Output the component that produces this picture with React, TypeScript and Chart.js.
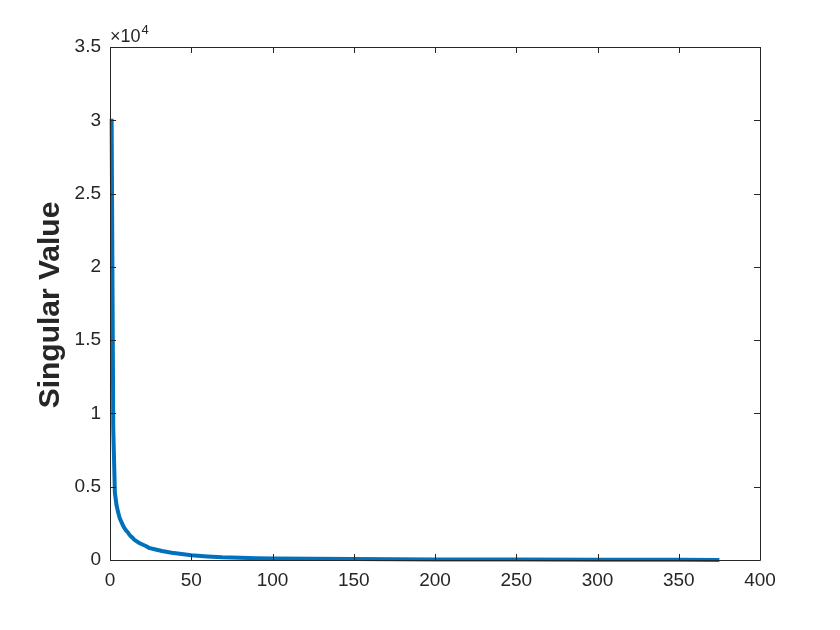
import React, { useEffect, useRef } from "react";
import { Chart, registerables } from "chart.js";

Chart.register(...registerables);

const indices = [1, 2, 3, 4, 5, 6, 7, 8, 9, 10, 11, 12, 13, 14, 15, 16, 18, 20, 22, 24, 28, 32, 38, 44, 50, 60, 69, 80, 90, 100, 125, 150, 175, 200, 250, 300, 350, 375];
const singularValues = [30100, 9000, 4600, 3750, 3250, 2850, 2600, 2350, 2150, 2000, 1880, 1720, 1600, 1500, 1380, 1300, 1160, 1060, 960, 830, 720, 610, 500, 410, 330, 240, 180, 150, 125, 108, 80, 62, 50, 42, 30, 20, 12, 5];
const xTicks = [0, 50, 100, 150, 200, 250, 300, 350, 400];
const yTicks = [0, 5000, 10000, 15000, 20000, 25000, 30000, 35000];
const yTitle = "Singular Value";
const exponentBase = "×10";
const exponent = "4";

const AXIS_COLOR = "#262626";
const FONT = "Arial, 'Liberation Sans', Helvetica, sans-serif";

const matlabAxes = {
  id: "matlabAxes",
  afterDraw(chart: any) {
    const { ctx, chartArea } = chart;
    const { left, right, top, bottom } = chartArea;
    const xs = chart.scales.x;
    const ys = chart.scales.y;
    ctx.save();
    ctx.strokeStyle = AXIS_COLOR;
    ctx.lineWidth = 1;
    ctx.beginPath();
    ctx.rect(Math.round(left) + 0.5, Math.round(top) + 0.5, Math.round(right - left), Math.round(bottom - top));
    ctx.stroke();
    const tl = 6;
    ctx.beginPath();
    xTicks.forEach((v) => {
      const px = Math.round(xs.getPixelForValue(v)) + 0.5;
      ctx.moveTo(px, bottom);
      ctx.lineTo(px, bottom - tl);
      ctx.moveTo(px, top);
      ctx.lineTo(px, top + tl);
    });
    yTicks.forEach((v) => {
      const py = Math.round(ys.getPixelForValue(v)) + 0.5;
      ctx.moveTo(left, py);
      ctx.lineTo(left + tl, py);
      ctx.moveTo(right, py);
      ctx.lineTo(right - tl, py);
    });
    ctx.stroke();
    // exponent label
    ctx.fillStyle = AXIS_COLOR;
    ctx.textBaseline = "alphabetic";
    ctx.textAlign = "left";
    ctx.font = `18px ${FONT}`;
    ctx.fillText(exponentBase, left, top - 5);
    const w = ctx.measureText(exponentBase).width;
    ctx.font = `13px ${FONT}`;
    ctx.fillText(exponent, left + w + 1, top - 13);
    // y title
    ctx.font = `bold 30px ${FONT}`;
    ctx.translate(51, 305);
    ctx.rotate(-Math.PI / 2);
    ctx.textAlign = "center";
    ctx.textBaseline = "middle";
    ctx.fillText(yTitle, 0, 0);
    ctx.restore();
  },
};

export default function App() {
  const ref = useRef<HTMLCanvasElement | null>(null);
  useEffect(() => {
    document.body.style.margin = "0";
    const canvas = ref.current;
    if (!canvas) return;
    const chart = new Chart(canvas, {
      type: "line",
      data: {
        datasets: [
          {
            data: indices.map((x, i) => ({ x, y: singularValues[i] })),
            borderColor: "#0072BD",
            borderWidth: 4,
            pointRadius: 0,
            tension: 0,
            fill: false,
            clip: false as any,
          },
        ],
      },
      options: {
        animation: false,
        responsive: false,
        maintainAspectRatio: false,
        layout: { padding: { left: 0, top: 47, right: 80, bottom: 0 } },
        plugins: { legend: { display: false }, tooltip: { enabled: false } },
        scales: {
          x: {
            type: "linear",
            min: 0,
            max: 400,
            border: { display: false },
            grid: { display: false, drawTicks: false },
            afterBuildTicks: (scale: any) => {
              scale.ticks = xTicks.map((v) => ({ value: v }));
            },
            afterFit: (scale: any) => {
              scale.height = 70;
            },
            ticks: {
              color: AXIS_COLOR,
              font: { size: 19, family: FONT },
              padding: 9,
              maxRotation: 0,
              autoSkip: false,
            },
          },
          y: {
            type: "linear",
            min: 0,
            max: 35000,
            border: { display: false },
            grid: { display: false, drawTicks: false },
            afterBuildTicks: (scale: any) => {
              scale.ticks = yTicks.map((v) => ({ value: v }));
            },
            afterFit: (scale: any) => {
              scale.width = 110;
            },
            ticks: {
              color: AXIS_COLOR,
              font: { size: 19, family: FONT },
              padding: 9,
              autoSkip: false,
              callback: (v: any) => String(Number(v) / 10000),
            },
          },
        },
      },
      plugins: [matlabAxes],
    });
    return () => chart.destroy();
  }, []);
  return (
    <div style={{ position: "absolute", left: 0, top: 0, width: 840, height: 630, background: "#fff" }}>
      <canvas ref={ref} width={840} height={630} style={{ width: 840, height: 630 }} />
    </div>
  );
}
